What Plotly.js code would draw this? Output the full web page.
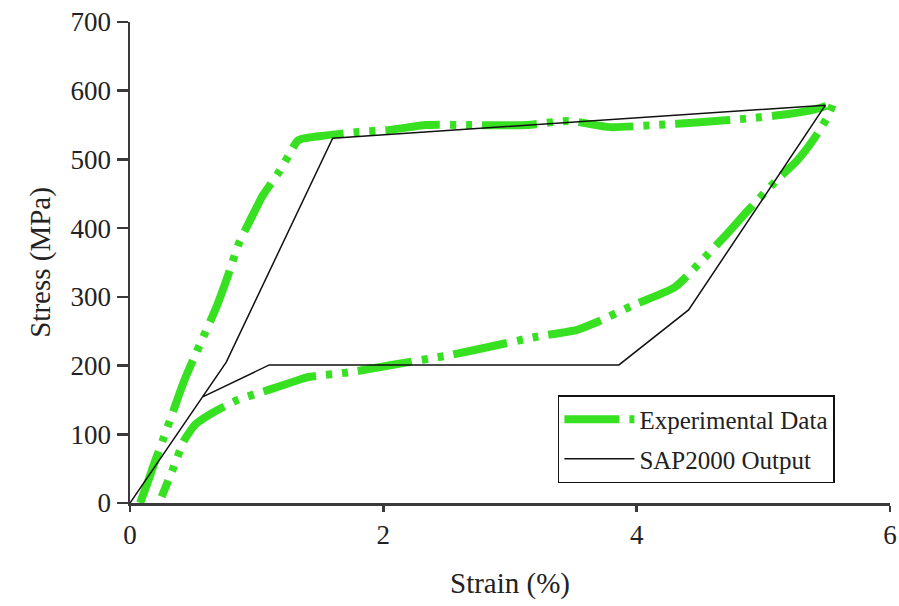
<!DOCTYPE html>
<html>
<head>
<meta charset="utf-8">
<script src="https://cdn.plot.ly/plotly-3.0.1.min.js"></script>
<style>html,body{margin:0;padding:0;background:#fff;}#chart{width:899px;height:606px;}</style>
</head>
<body>
<div id="chart"></div>
<script>
// Experimental data (strain %, stress MPa)
const expStrain = [0.08, 0.14, 0.20, 0.26, 0.34, 0.43, 0.55, 0.68, 0.77, 0.86, 0.95, 1.05, 1.17, 1.25, 1.33, 1.55, 1.80, 2.05, 2.34, 2.70, 3.13, 3.46, 3.79, 4.14, 4.50, 4.90, 5.20, 5.39, 5.50, 5.55, 5.50, 5.40, 5.27, 5.09, 4.88, 4.69, 4.50, 4.30, 4.00, 3.67, 3.53, 3.21, 2.83, 2.52, 2.10, 1.76, 1.40, 1.33, 1.10, 0.85, 0.65, 0.52, 0.43, 0.34, 0.25];
const expStress = [0, 30, 62, 92, 133, 179, 230, 284, 329, 378, 412, 448, 480, 505, 528, 535, 540, 543, 550, 550, 550, 556, 547, 550, 554, 560, 566, 572, 578, 582, 560, 530, 499, 467, 426, 387, 350, 314, 290, 262, 252, 242, 227, 215, 202, 191, 183, 179, 165, 150, 131, 115, 92, 50, 9];
// SAP2000 output polyline
const sapStrain = [0, 0.57, 0.76, 1.60, 5.49, 4.41, 3.86, 1.10, 0.57];
const sapStress = [0, 154, 205, 531, 579, 281, 201, 201, 154];
const xTicks = [0, 2, 4, 6];
const yTicks = [0, 100, 200, 300, 400, 500, 600, 700];

const serif = "Liberation Serif, Times New Roman, serif";
const traces = [
  {x: expStrain, y: expStress, mode: 'lines', name: 'Experimental Data', legendgroup: 'a',
   line: {color: '#38e022', width: 8, dash: '55px,10px,6px,10px,6px,10px', shape: 'spline', smoothing: 0.6}},
  {x: sapStrain, y: sapStress, mode: 'lines', name: 'SAP2000 Output', legendgroup: 'b',
   line: {color: '#111', width: 1.5}}
];
const layout = {
  width: 899, height: 606,
  margin: {l: 130, r: 9, t: 22, b: 103},
  paper_bgcolor: '#fff', plot_bgcolor: '#fff',
  font: {family: serif, color: '#222', size: 20},
  showlegend: true,
  legend: {x: 0.563, y: 0.2245, xanchor: 'left', yanchor: 'top',
    bgcolor: '#fff', bordercolor: '#111', borderwidth: 1.5, traceorder: 'grouped',
    font: {family: serif, size: 25, color: '#222'}, itemwidth: 70, tracegroupgap: 4},
  xaxis: {range: [0, 6], tickvals: xTicks, ticktext: xTicks.map(String),
    showgrid: false, zeroline: false, showline: true, linecolor: '#3a3a3a', linewidth: 2.5,
    ticks: 'outside', ticklen: 6, tickwidth: 2.5, tickcolor: '#3a3a3a',
    tickfont: {family: serif, size: 27, color: '#222'},
    title: {text: 'Strain (%)', font: {family: serif, size: 29, color: '#222'}, standoff: 24}},
  yaxis: {range: [0, 700], tickvals: yTicks, ticktext: yTicks.map(String),
    showgrid: false, zeroline: false, showline: true, linecolor: '#3a3a3a', linewidth: 2.5,
    ticks: 'outside', ticklen: 11, tickwidth: 2.5, tickcolor: '#3a3a3a',
    tickfont: {family: serif, size: 27, color: '#222'},
    title: {text: 'Stress (MPa)', font: {family: serif, size: 29, color: '#222'}, standoff: 12}}
};
Plotly.newPlot('chart', traces, layout, {displayModeBar: false, staticPlot: true});
</script>
</body>
</html>
